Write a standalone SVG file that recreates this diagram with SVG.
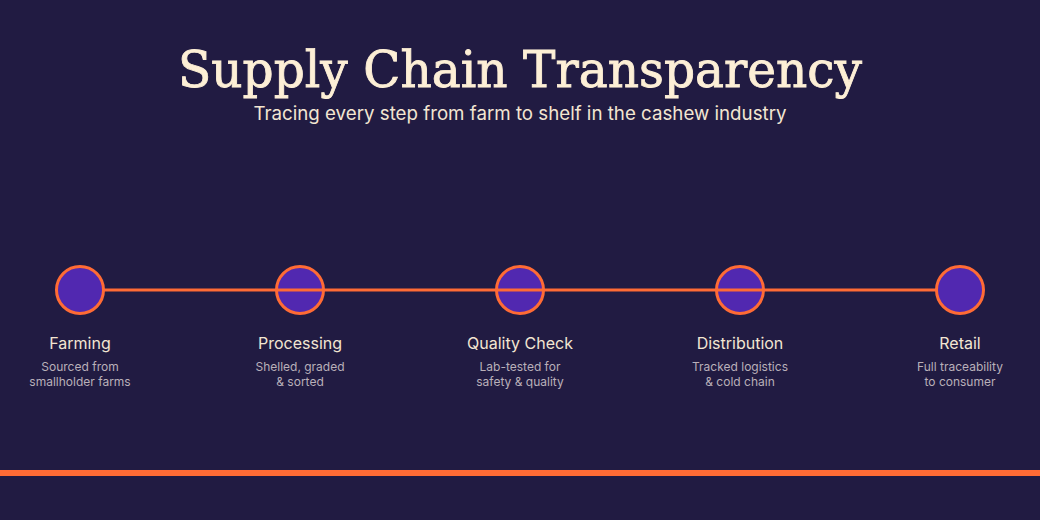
<svg xmlns="http://www.w3.org/2000/svg" width="1040" height="520" viewBox="0 0 1040 520">
<style>
.title{font-family:"DejaVu Serif","Liberation Serif",serif;font-size:51px;fill:#fdefd6;stroke:#fdefd6;stroke-width:0.9px;text-anchor:middle}
.sub{font-family:Inter,"Liberation Sans",sans-serif;font-size:18.5px;fill:#f3e6d2;text-anchor:middle}
.lbl{font-family:Inter,"Liberation Sans",sans-serif;font-size:16px;fill:#f3e6d2;text-anchor:middle}
.desc{font-family:Inter,"Liberation Sans",sans-serif;font-size:12px;fill:#b9b0b9;text-anchor:middle}
.dot{fill:#5128b0;stroke:#ff6b35;stroke-width:3}
</style>
<rect width="1040" height="520" fill="#211b42"/>
<text class="title" x="520" y="87" textLength="684" lengthAdjust="spacingAndGlyphs">Supply Chain Transparency</text>
<text class="sub" x="520" y="120" textLength="533" lengthAdjust="spacingAndGlyphs">Tracing every step from farm to shelf in the cashew industry</text>
<g id="node-farming"><circle class="dot" cx="80" cy="290" r="23.5"/><text class="lbl" x="80" y="349">Farming</text><text class="desc" x="80" y="371">Sourced from</text><text class="desc" x="80" y="386">smallholder farms</text></g>
<g id="node-processing"><circle class="dot" cx="300" cy="290" r="23.5"/><text class="lbl" x="300" y="349">Processing</text><text class="desc" x="300" y="371">Shelled, graded</text><text class="desc" x="300" y="386">&amp; sorted</text></g>
<g id="node-quality"><circle class="dot" cx="520" cy="290" r="23.5"/><text class="lbl" x="520" y="349">Quality Check</text><text class="desc" x="520" y="371">Lab-tested for</text><text class="desc" x="520" y="386">safety &amp; quality</text></g>
<g id="node-distribution"><circle class="dot" cx="740" cy="290" r="23.5"/><text class="lbl" x="740" y="349">Distribution</text><text class="desc" x="740" y="371">Tracked logistics</text><text class="desc" x="740" y="386">&amp; cold chain</text></g>
<g id="node-retail"><circle class="dot" cx="960" cy="290" r="23.5"/><text class="lbl" x="960" y="349">Retail</text><text class="desc" x="960" y="371">Full traceability</text><text class="desc" x="960" y="386">to consumer</text></g>
<g id="connectors"><line x1="103" y1="290" x2="937" y2="290" stroke="#ff6b35" stroke-width="3"/></g>
<rect x="0" y="470" width="1040" height="6" fill="#ff6b35"/>
</svg>
